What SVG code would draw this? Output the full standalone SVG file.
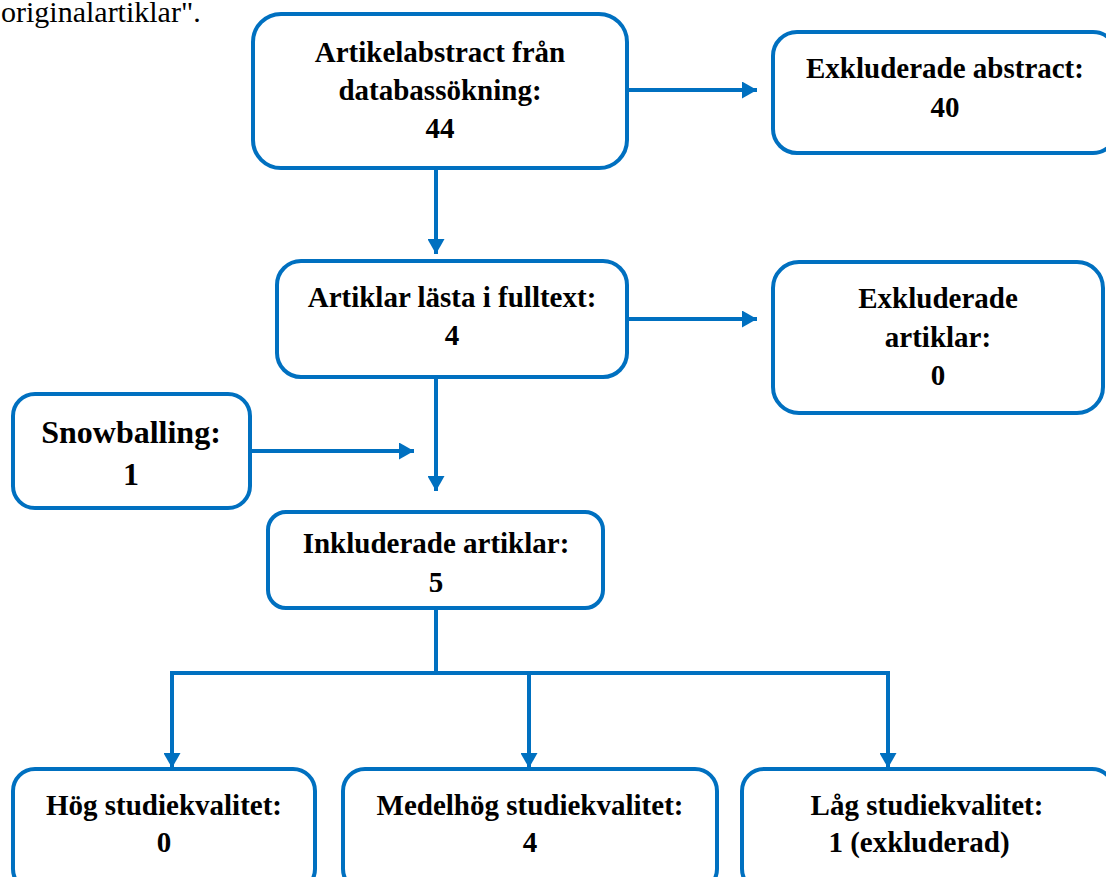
<svg xmlns="http://www.w3.org/2000/svg" width="1106" height="877" viewBox="0 0 1106 877">
<style>
.box{fill:#fff;stroke:#0070C0;stroke-width:4}
.c{fill:none;stroke:#0070C0;stroke-width:4}
.t{font-family:"Liberation Serif","Times New Roman",serif;font-weight:bold;font-size:29px;fill:#000;text-anchor:middle}
.s{font-size:32px}
.p{font-family:"Liberation Serif","Times New Roman",serif;font-size:30px;fill:#000}
</style>
<defs>
<marker id="ah" markerUnits="userSpaceOnUse" markerWidth="17" markerHeight="17" refX="15" refY="8.5" orient="auto">
<path d="M0,0 L15,8.5 L0,17 z" fill="#0070C0"/>
</marker>
</defs>
<rect width="1106" height="877" fill="#fff"/>
<text class="p" x="1" y="22">originalartiklar".</text>
<g id="connectors">
<line class="c" x1="627" y1="90" x2="757" y2="90" marker-end="url(#ah)"/>
<line class="c" x1="436" y1="168" x2="436" y2="254" marker-end="url(#ah)"/>
<line class="c" x1="627" y1="319" x2="757" y2="319" marker-end="url(#ah)"/>
<line class="c" x1="436" y1="377" x2="436" y2="491" marker-end="url(#ah)"/>
<line class="c" x1="250" y1="451" x2="414" y2="451" marker-end="url(#ah)"/>
<line class="c" x1="436" y1="608" x2="436" y2="673"/>
<polyline class="c" points="172,767 172,673 888,673 888,767"/>
<line class="c" x1="172" y1="673" x2="172" y2="768" marker-end="url(#ah)"/>
<line class="c" x1="529" y1="673" x2="529" y2="768" marker-end="url(#ah)"/>
<line class="c" x1="888" y1="673" x2="888" y2="768" marker-end="url(#ah)"/>
</g>
<g id="n1">
<rect class="box" x="253" y="14" width="374" height="154" rx="28"/>
<text class="t" x="440" y="62">Artikelabstract från</text>
<text class="t" x="440" y="100">databassökning:</text>
<text class="t" x="440" y="138">44</text>
</g>
<g id="n2">
<rect class="box" x="773" y="32" width="344" height="121" rx="24"/>
<text class="t" x="945" y="78">Exkluderade abstract:</text>
<text class="t" x="945" y="117">40</text>
</g>
<g id="n3">
<rect class="box" x="277" y="261" width="350" height="116" rx="24"/>
<text class="t" x="452" y="307">Artiklar lästa i fulltext:</text>
<text class="t" x="452" y="345">4</text>
</g>
<g id="n4">
<rect class="box" x="773" y="262" width="330" height="151" rx="26"/>
<text class="t" x="938" y="308">Exkluderade</text>
<text class="t" x="938" y="347">artiklar:</text>
<text class="t" x="938" y="385">0</text>
</g>
<g id="n5">
<rect class="box" x="13" y="394" width="237" height="114" rx="22"/>
<text class="t s" x="131" y="443">Snowballing:</text>
<text class="t s" x="131" y="485">1</text>
</g>
<g id="n6">
<rect class="box" x="268" y="512" width="335" height="96" rx="18"/>
<text class="t" x="436" y="553">Inkluderade artiklar:</text>
<text class="t" x="436" y="592">5</text>
</g>
<g id="n7">
<rect class="box" x="13" y="769" width="302" height="122" rx="22"/>
<text class="t" x="164" y="815">Hög studiekvalitet:</text>
<text class="t" x="164" y="852">0</text>
</g>
<g id="n8">
<rect class="box" x="343" y="769" width="374" height="122" rx="22"/>
<text class="t" x="530" y="815">Medelhög studiekvalitet:</text>
<text class="t" x="530" y="852">4</text>
</g>
<g id="n9">
<rect class="box" x="742" y="769" width="372" height="122" rx="22"/>
<text class="t" x="927" y="815">Låg studiekvalitet:</text>
<text class="t" x="919" y="852">1 (exkluderad)</text>
</g>
</svg>
